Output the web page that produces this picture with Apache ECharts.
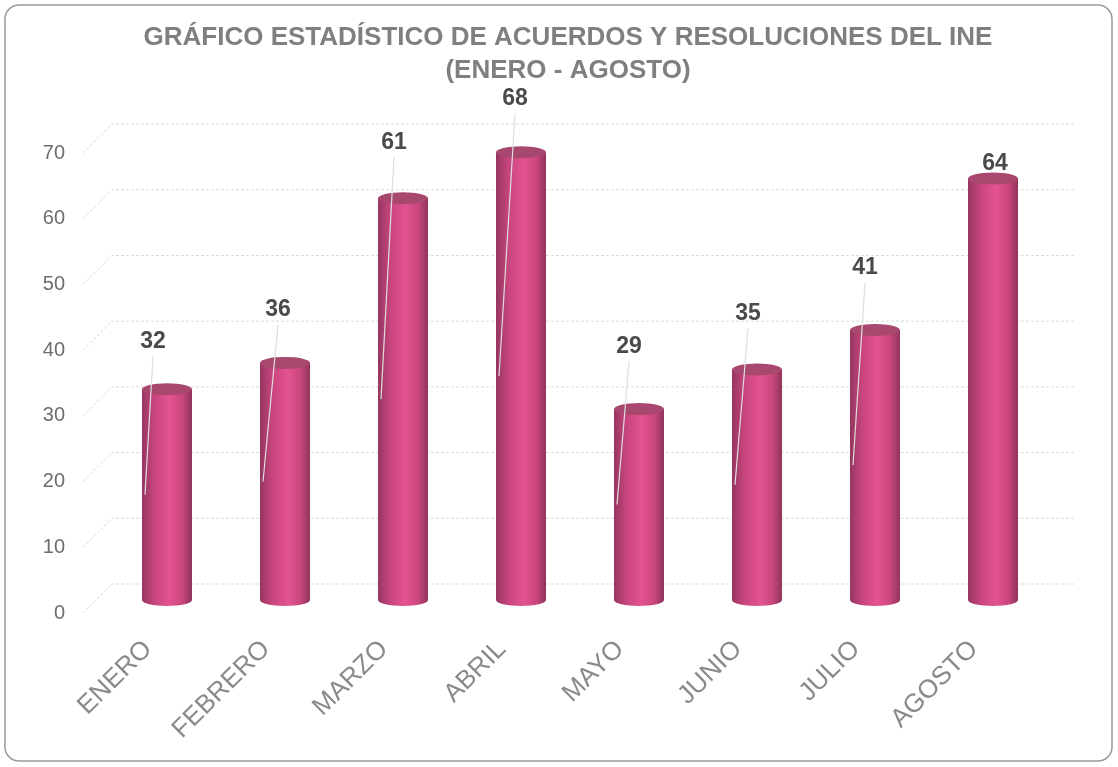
<!DOCTYPE html>
<html>
<head>
<meta charset="utf-8">
<script src="https://cdn.jsdelivr.net/npm/echarts@6/dist/echarts.min.js"></script>
<style>
html,body{margin:0;padding:0;background:#fff;}
#chart{width:1118px;height:767px;}
</style>
</head>
<body>
<div id="chart"></div>
<script>
const categories = ['ENERO','FEBRERO','MARZO','ABRIL','MAYO','JUNIO','JULIO','AGOSTO'];
const values = [32,36,61,68,29,35,41,64];
const yTicks = [0,10,20,30,40,50,60,70];
const titleLine1 = 'GRÁFICO ESTADÍSTICO DE ACUERDOS Y RESOLUCIONES DEL INE';
const titleLine2 = '(ENERO - AGOSTO)';

// layout constants (label placement, as in the original 3D chart)
const LABEL_DX = [-14,-7,-9,-6,-10,-9,-10,2];
const LABEL_DY = [-48,-53,-56,-54,-62,-56,-62,-15];

const FONT = '"Liberation Sans", Arial, sans-serif';
const chart = echarts.init(document.getElementById('chart'));

function bodyGradient(){
  return new echarts.graphic.LinearGradient(0,0,1,0,[
    {offset:0, color:'#953660'},
    {offset:0.25, color:'#c8457f'},
    {offset:0.55, color:'#e35390'},
    {offset:0.8, color:'#cb477e'},
    {offset:1, color:'#91345c'}
  ]);
}

const titleStyle = {fill:'#7f7f7f', fontFamily:FONT, fontSize:26, fontWeight:'bold', align:'center', verticalAlign:'middle'};

const option = {
  backgroundColor:'#ffffff',
  animation:false,
  graphic:[
    {type:'rect', shape:{x:5,y:5,width:1107,height:756,r:14},
     style:{fill:'none', stroke:'#9a9a9a', lineWidth:1.5}, z:-10},
    {type:'text', x:568, y:38, style:Object.assign({text:titleLine1}, titleStyle), z:10},
    {type:'text', x:568, y:71, style:Object.assign({text:titleLine2}, titleStyle), z:10}
  ],
  grid:[
    {left:108, right:66, top:139, bottom:167},
    {left:83, right:43, top:153, bottom:154}
  ],
  xAxis:[
    {gridIndex:0, type:'category', data:categories,
     axisLine:{show:false}, axisTick:{show:false}, splitLine:{show:false},
     axisLabel:{rotate:45, fontSize:26, color:'#8a8a8a', fontFamily:FONT, margin:26, padding:[0,27,0,0], interval:0}},
    {gridIndex:1, type:'value', min:0, max:1, show:false}
  ],
  yAxis:[
    {gridIndex:0, type:'value', min:0, max:70, interval:10, show:false},
    {gridIndex:1, type:'value', min:0, max:70, interval:10,
     axisLine:{show:false}, axisTick:{show:false}, splitLine:{show:false},
     axisLabel:{fontSize:20, color:'#6d6d6d', fontFamily:FONT, margin:18}}
  ],
  series:[
    {
      type:'custom', xAxisIndex:1, yAxisIndex:1, z:1,
      data: yTicks.map(v => [0, v]),
      renderItem:function(params, api){
        const p = api.coord([0, api.value(1)]);
        const right = params.coordSys.x + params.coordSys.width;
        return {type:'polyline', shape:{points:[[p[0], p[1]],[p[0]+29, p[1]-29],[right, p[1]-29]]},
                style:{stroke:'#dadada', lineWidth:1, lineDash:[3,2], fill:null}};
      }
    },
    {
      type:'custom', xAxisIndex:0, yAxisIndex:0, z:3,
      data: values.map((v,i) => [i, v]),
      renderItem:function(params, api){
        const i = api.value(0), v = api.value(1);
        const top = api.coord([i, v]);
        const base = api.coord([i, 0]);
        const bw = 50, rx = bw/2, ry = 6;
        const cx = top[0];
        return {type:'group', children:[
          {type:'circle', shape:{cx:0,cy:0,r:rx}, x:cx, y:base[1], scaleY:ry/rx, style:{fill:bodyGradient()}},
          {type:'rect', shape:{x:cx-rx, y:top[1], width:bw, height:base[1]-top[1]}, style:{fill:bodyGradient()}},
          {type:'circle', shape:{cx:0,cy:0,r:rx}, x:cx, y:top[1], scaleY:ry/rx, style:{fill:'#a8486f'}}
        ]};
      }
    },
    {
      type:'custom', xAxisIndex:0, yAxisIndex:0, z:5,
      data: values.map((v,i) => [i, v]),
      renderItem:function(params, api){
        const i = api.value(0), v = api.value(1);
        const top = api.coord([i, v]);
        const mid = api.coord([i, v/2]);
        const lx = top[0] + LABEL_DX[i];
        const ly = top[1] + LABEL_DY[i];
        const children = [];
        if (LABEL_DY[i] < -30) {
          children.push({type:'line', shape:{x1:lx, y1:ly+15, x2:top[0]-22, y2:mid[1]},
                         style:{stroke:'#dedede', lineWidth:1.2}});
        }
        children.push({type:'text', x:lx, y:ly,
          style:{text:String(v), fill:'#4a4a4a', fontFamily:FONT, fontSize:23, fontWeight:'bold',
                 align:'center', verticalAlign:'middle'}});
        return {type:'group', children:children};
      }
    }
  ]
};
chart.setOption(option);
</script>
</body>
</html>
